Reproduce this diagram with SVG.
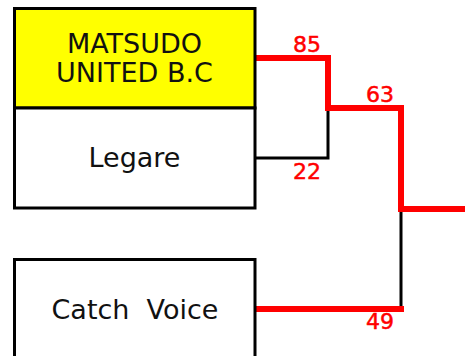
<svg xmlns="http://www.w3.org/2000/svg" width="465" height="356" viewBox="0 0 465 356">
<style>
.box{stroke:#000;stroke-width:3;}
.t{font-family:"DejaVu Sans",sans-serif;font-size:27px;fill:#111;text-anchor:middle;}
.s{font-family:"DejaVu Sans",sans-serif;font-size:22px;fill:#f00;stroke:#f00;stroke-width:0.5;text-anchor:middle;}
.w{fill:none;stroke:#f00;stroke-width:6;stroke-linecap:square;}
.l{fill:none;stroke:#000;stroke-width:3;}
</style>
<rect width="465" height="356" fill="#fff"/>
<g id="connectors">
<polyline class="l" points="255,158 328,158 328,108"/>
<polyline class="l" points="401,209 401,309"/>
<polyline class="w" points="258,58 328,58 328,108 401,108 401,209 465,209"/>
<polyline class="w" points="258,309 401,309"/>
<text class="s" x="307" y="52">85</text>
<text class="s" x="307" y="179">22</text>
<text class="s" x="380" y="102">63</text>
<text class="s" x="380" y="329">49</text>
</g>
<g id="node-matsudo">
<rect class="box" x="14.5" y="8.5" width="240.5" height="99.5" fill="#ff0"/>
<text class="t" x="134.5" y="53">MATSUDO</text>
<text class="t" x="134.5" y="82">UNITED B.C</text>
</g>
<g id="node-legare">
<rect class="box" x="14.5" y="108" width="240.5" height="100" fill="#fff"/>
<text class="t" x="134.5" y="167">Legare</text>
</g>
<g id="node-catchvoice">
<rect class="box" x="14.5" y="259.5" width="240.5" height="110" fill="#fff"/>
<text class="t" x="135" y="319" xml:space="preserve">Catch  Voice</text>
</g>
</svg>
